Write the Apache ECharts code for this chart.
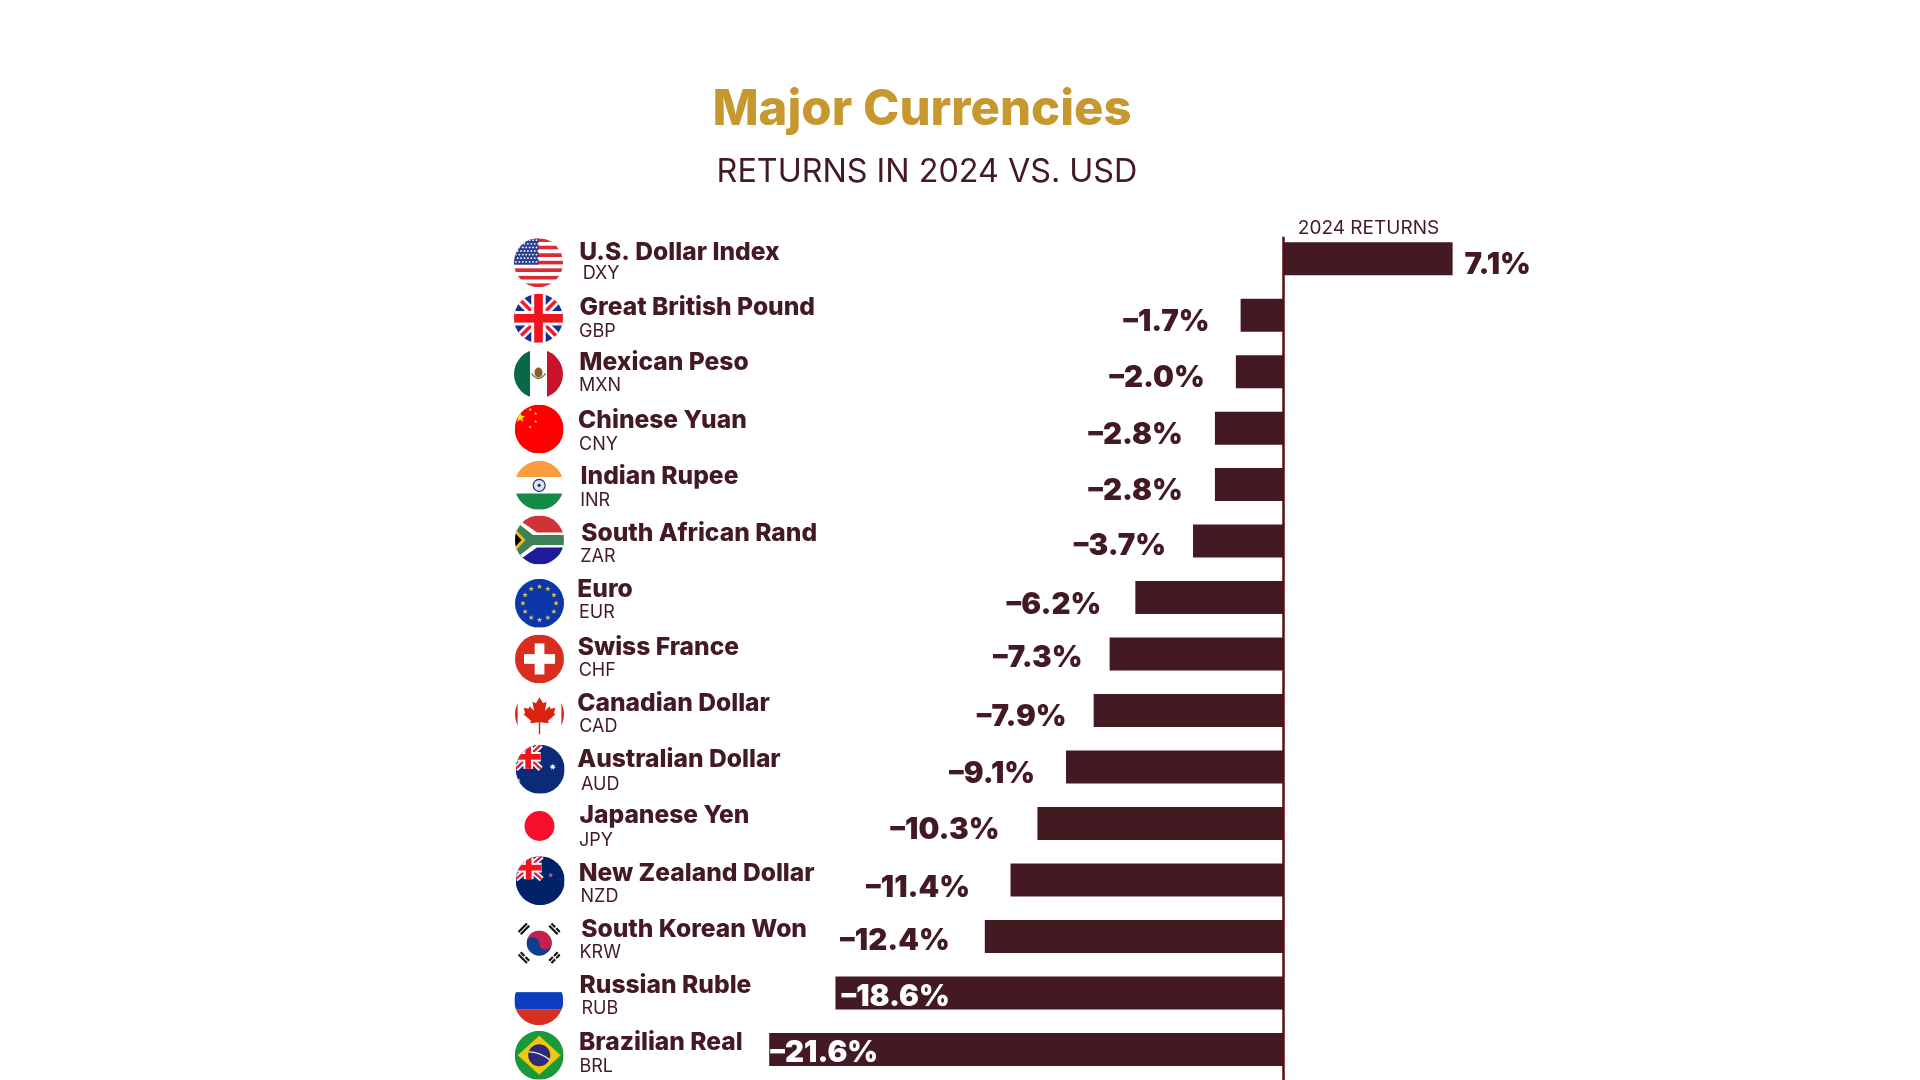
<!DOCTYPE html>
<html><head><meta charset="utf-8">
<style>html,body{margin:0;padding:0;background:#fff}#c{width:1920px;height:1080px}</style>
<script src="https://cdn.jsdelivr.net/npm/echarts@6/dist/echarts.min.js"></script>
</head><body><div id="c"></div>
<script>
const categories=['U.S. Dollar Index','Great British Pound','Mexican Peso','Chinese Yuan','Indian Rupee','South African Rand','Euro','Swiss France','Canadian Dollar','Australian Dollar','Japanese Yen','New Zealand Dollar','South Korean Won','Russian Ruble','Brazilian Real'];
const tickers=['DXY','GBP','MXN','CNY','INR','ZAR','EUR','CHF','CAD','AUD','JPY','NZD','KRW','RUB','BRL'];
// figures printed beside the bars
const printedPct=[7.1,-1.7,-2.0,-2.8,-2.8,-3.7,-6.2,-7.3,-7.9,-9.1,-10.3,-11.4,-12.4,-18.6,-21.6];
// bar lengths (the drawn bars run slightly past some printed figures)
const barPct=[7.1,-1.8,-2.0,-2.88,-2.88,-3.8,-6.22,-7.3,-7.97,-9.13,-10.33,-11.46,-12.54,-18.81,-21.59];

// hand layout of the row furniture, relative to each row's centre
const flagDy=[4,3.1,2.3,.9,.7,-1.1,5.7,4.9,3.8,2.3,2.5,.7,6.8,7.7,5.9];
const flagDx=[0,0,0,.7,.7,1,1,1,1,1.7,1,1.7,.7,.3,.7];
const nameDy=[-6,-7.5,-9,-7.1,-7.9,-7.8,-7.6,-6.4,-7.2,-7,-7.5,-6.3,-6.5,-7,-6.7];
const nameDx=[-.7,-.5,-.7,-2,.5,1.2,-2.7,-2.3,-2.8,-2.8,-.5,-1.3,1.2,-.5,-1];
const tickDy=[15,16.1,14.3,16.2,15.7,15.4,14.9,16.4,16,17.2,17.3,16.5,16,15.8,17.3];
const tickDx=[2.7,-1,-1,-1,.2,.2,-1,-1.3,-.7,1,-1,.5,-.5,1.5,-.5];
const labelGap=[12,31,31,32,32,27,34,27,27,31,38,40.5,35,6,1];
const labelDy=[6.6,6.6,6.6,7.3,6.6,5.5,7.3,4.2,6.6,7.3,6.6,7.9,4.8,4.2,4.2];

const FONT='Inter';
const INK='#431a21';

function star(cx,cy,r,fill,n=5,inner=.42){let p=[];for(let i=0;i<n*2;i++){const a=-Math.PI/2+i*Math.PI/n,q=i%2?r*inner:r;p.push((cx+q*Math.cos(a)).toFixed(2)+','+(cy+q*Math.sin(a)).toFixed(2));}return `<polygon points="${p.join(' ')}" fill="${fill}"/>`;}
function rect(x,y,w,h,f){return `<rect x="${x}" y="${y}" width="${w}" height="${h}" fill="${f}"/>`;}
function line(a,b,c,d,w,s){return `<line x1="${a}" y1="${b}" x2="${c}" y2="${d}" stroke-width="${w}" stroke="${s}"/>`;}
function ukJack(W,H,s){return rect(0,0,W,H,'#14308f')+line(0,0,W,H,2.4*s,'#fff')+line(W,0,0,H,2.4*s,'#fff')+line(0,0,W,H,1*s,'#e8212e')+line(W,0,0,H,1*s,'#e8212e')+rect(W/2-2*s,0,4*s,H,'#fff')+rect(0,H/2-2*s,W,4*s,'#fff')+rect(W/2-1.2*s,0,2.4*s,H,'#f0141e')+rect(0,H/2-1.2*s,W,2.4*s,'#f0141e');}
function usFlag(){let o='';for(let i=0;i<13;i++)o+=rect(0,i*49/13,49,49/13+.1,i%2?'#fff':'#dc2a35');o+=rect(0,0,24.5,26.4,'#27408f');for(let r=0;r<7;r++)for(let c=0;c<7;c++)o+=`<circle cx="${2+c*3.4+(r%2?1.7:0)}" cy="${2+r*3.6}" r=".9" fill="#fff"/>`;return o;}
function euStars(){let o=rect(0,0,49,49,'#0b37a8');for(let i=0;i<12;i++){const a=i*Math.PI/6;o+=star(24.5+16.6*Math.sin(a),24.5-16.6*Math.cos(a),2.8,'#e0c24c');}return o;}
function leaf(){const h=[[24.5,7.5],[28,13.5],[31.5,12],[30,21],[34.5,16.5],[35.5,19],[40.5,18],[38.8,23.5],[40.5,24.5],[33,31],[33.8,33.5],[25.2,32.5],[25.2,44.5]];const full=h.concat(h.slice(1).reverse().map(p=>[49-p[0],p[1]]));return `<polygon points="${full.map(p=>p.join(',')).join(' ')}" fill="#d9230f"/>`;}
function trig(cx,cy,rot,bars){let o='';bars.forEach((b,i)=>{const y=(i-1)*3.2;if(b)o+=rect(-6,y-1.1,12,2.2,'#111');else o+=rect(-6,y-1.1,5.2,2.2,'#111')+rect(.8,y-1.1,5.2,2.2,'#111');});return `<g transform="translate(${cx} ${cy}) rotate(${rot})">${o}</g>`;}
const flagArt=[
 usFlag(),
 ukJack(49,49,3.6),
 rect(0,0,16,49,'#07694a')+rect(16,0,17,49,'#fff')+rect(33,0,16,49,'#c8132a')+'<ellipse cx="24.5" cy="23" rx="4" ry="5" fill="#8a5a2a"/><path d="M17.5 24 Q24.5 34 31.5 24" fill="none" stroke="#4f8a55" stroke-width="1.4"/>',
 rect(0,0,49,49,'#ff0000')+star(5.5,13,5.2,'#ffde00')+star(15.5,5,1.9,'#ffde00')+star(21,9,1.9,'#ffde00')+star(21,17,1.9,'#ffde00')+star(15.5,22.5,1.9,'#ffde00'),
 rect(0,0,49,16.3,'#f99d3d')+rect(0,16.3,49,16.4,'#fff')+rect(0,32.7,49,16.3,'#138a45')+'<circle cx="24.5" cy="24.5" r="6" fill="#dfe1f0" stroke="#27306e" stroke-width="1.2"/><circle cx="24.5" cy="24.5" r="1.6" fill="#27306e"/>',
 rect(0,0,49,24.5,'#cf3338')+rect(0,24.5,49,24.5,'#1e1b9a')+'<path d="M-2 0 L22 17 H49 V32 H22 L-2 49 Z" fill="#fff"/><path d="M-2 4 L18 19.5 H49 V29.5 H18 L-2 45 Z" fill="#3d8257"/><path d="M0 13 L10.5 24.5 L0 36 Z" fill="#f0b71c"/><path d="M0 17.5 L6.5 24.5 L0 31.5 Z" fill="#000"/>',
 euStars(),
 rect(0,0,49,49,'#d92d20')+rect(19.7,9,9.7,31,'#fff')+rect(9,19.7,31,9.7,'#fff'),
 rect(0,0,49,49,'#fff')+rect(0,0,2.6,49,'#d9230f')+rect(46.4,0,2.6,49,'#d9230f')+leaf(),
 rect(0,0,49,49,'#0b2a78')+ukJack(25,24,2.4)+star(37,22,3.4,'#fff',7)+star(2,36,3.2,'#fff',7),
 rect(0,0,49,49,'#fff')+'<circle cx="24.5" cy="24.5" r="15" fill="#f50f2d"/>',
 rect(0,0,49,49,'#012169')+ukJack(26,23,2.4)+star(35,19,2.8,'#c0607a'),
 rect(0,0,49,49,'#fff')+'<circle cx="24.5" cy="24.5" r="12.5" fill="#0d3f8c"/><path d="M12 24.5 A12.5 12.5 0 0 1 37 24.5 A6.25 6.25 0 0 1 24.5 24.5 A6.25 6.25 0 0 0 12 24.5 Z" fill="#c6204d"/>'+trig(8,9,-45,[1,1,1])+trig(41,9,45,[1,0,1])+trig(8,40,45,[0,1,0])+trig(41,40,-45,[0,0,0]),
 rect(0,0,49,16,'#fff')+rect(0,16,49,17,'#0b3dbe')+rect(0,33,49,16,'#d63020'),
 rect(0,0,49,49,'#189a3a')+'<polygon points="24.5,5 46,24.5 24.5,44 3,24.5" fill="#f2c80f"/><circle cx="24.5" cy="24.5" r="11" fill="#2c2a7a"/><path d="M14 21 Q25 21 35 29" stroke="#e8e8f0" stroke-width="1.2" fill="none"/>'
];
function flagUri(i){return 'data:image/svg+xml;charset=utf-8,'+encodeURIComponent(`<svg xmlns="http://www.w3.org/2000/svg" width="147" height="147" viewBox="0 0 49 49"><defs><clipPath id="k"><circle cx="24.5" cy="24.5" r="24.5"/></clipPath></defs><g clip-path="url(#k)">${flagArt[i]}</g></svg>`);}

const chart=echarts.init(document.getElementById('c'),null,{renderer:'canvas'});
const imgs=categories.map((_,i)=>{const m=new Image();m.src=flagUri(i);return m;});

function draw(){
 chart.setOption({
  animation:false,backgroundColor:'#fff',
  title:[
   {text:'Major Currencies',left:917,top:105.5,textAlign:'center',textVerticalAlign:'middle',textStyle:{fontFamily:FONT,fontWeight:800,fontSize:49,color:'#c6982f'}},
   {text:'RETURNS IN 2024 VS. USD',left:922,top:167,textAlign:'center',textVerticalAlign:'middle',textStyle:{fontFamily:FONT,fontWeight:400,fontSize:32.3,color:INK}},
   {text:'2024 RETURNS',left:1363.5,top:223.5,textAlign:'center',textVerticalAlign:'middle',textStyle:{fontFamily:FONT,fontWeight:400,fontSize:19,color:INK}}
  ],
  grid:{left:688,width:833.7,top:230.46,height:847.2},
  xAxis:{type:'value',min:-25,max:10,show:false},
  yAxis:{type:'category',inverse:true,data:categories,axisLine:{show:false},axisTick:{show:false},axisLabel:{show:false},splitLine:{show:false}},
  series:[
   {type:'bar',barWidth:33,itemStyle:{color:INK},z:2,
    data:barPct.map((v,i)=>{
      const inside=v<-15,shown=printedPct[i];
      return {value:v,label:{show:true,position:inside?'insideLeft':(v<0?'left':'right'),distance:labelGap[i],offset:[0,labelDy[i]],
        color:inside?'#fff':INK,fontFamily:FONT,fontWeight:900,fontSize:29.5,
        formatter:()=>(shown<0?'\u2013':'')+Math.abs(shown).toFixed(1)+'%'}};
    })},
   {type:'custom',coordinateSystem:'cartesian2d',clip:false,z:3,silent:true,
    encode:{x:0,y:1},
    data:categories.map((_,i)=>[0,i]),
    renderItem(p,api){
      const i=api.value(1),c=api.coord([0,i]),zero=c[0],y=c[1];
      const base=zero-703.5;
      return {type:'group',children:[
       {type:'image',style:{image:imgs[i],x:zero-745-24.5+flagDx[i],y:y+flagDy[i]-24.5,width:49,height:49}},
       {type:'text',style:{x:base+nameDx[i],y:y+nameDy[i],text:categories[i],fill:INK,fontFamily:FONT,fontWeight:800,fontSize:24.6,verticalAlign:'middle',align:'left'}},
       {type:'text',style:{x:base+tickDx[i],y:y+tickDy[i],text:tickers[i],fill:INK,fontFamily:FONT,fontWeight:400,fontSize:18,verticalAlign:'middle',align:'left'}}
      ]};
    }},
   {type:'custom',coordinateSystem:'cartesian2d',clip:false,z:5,silent:true,
    encode:{x:0,y:1},
    data:[[0,0]],
    renderItem(p,api){
      const top=api.coord([0,0]),bot=api.coord([0,categories.length-1]);
      return {type:'line',shape:{x1:top[0],y1:top[1]-22,x2:top[0],y2:bot[1]+31},style:{stroke:'#5a0c12',lineWidth:2.5}};
    }}
  ]
 });
}
Promise.all(imgs.map(m=>new Promise(r=>{m.onload=m.onerror=r;}))).then(draw);
</script></body></html>
